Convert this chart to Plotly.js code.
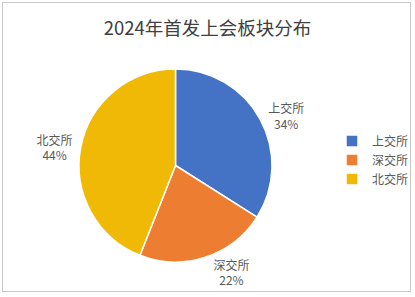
<!DOCTYPE html>
<html>
<head>
<meta charset="utf-8">
<script src="https://cdn.plot.ly/plotly-3.0.1.min.js"></script>
<style>
html,body{margin:0;padding:0;background:#fff;}
#wrap{position:absolute;left:0;top:0;width:415px;height:297px;}
#frame{position:absolute;left:2px;top:2px;width:407px;height:288px;border:1px solid #c8c8c8;pointer-events:none;}
#chart{position:absolute;left:0;top:0;width:415px;height:297px;}
</style>
</head>
<body>
<div id="wrap"><div id="chart"></div><div id="frame"></div></div>
<script>
const categories = ["上交所", "深交所", "北交所"];
const values = [34, 22, 44];
const colors = ["#4472C4", "#ED7D31", "#F0B905"];
const titleText = "2024年首发上会板块分布";

const font = "'Noto Sans CJK SC', 'Microsoft YaHei', sans-serif";

Plotly.newPlot("chart", [{
  type: "pie",
  labels: categories,
  values: values,
  sort: false,
  direction: "clockwise",
  rotation: 0,
  marker: {colors: colors, line: {color: "#ffffff", width: 1.5}},
  textinfo: "label+percent",
  texttemplate: "%{label}<br>%{percent:.0%}",
  textposition: "outside",
  automargin: false,
  outsidetextfont: {family: font, size: 12, color: "#595959"},
  hoverinfo: "none",
  domain: {x: [0.1904, 0.6554], y: [0.1178, 0.7677]}
}], {
  width: 415, height: 297,
  margin: {l: 0, r: 0, t: 0, b: 0},
  paper_bgcolor: "#ffffff",
  font: {family: font, color: "#595959"},
  title: {text: titleText, font: {family: font, size: 18.5, color: "#404040"}, x: 0.5, xanchor: "center", y: 0.905, yanchor: "middle"},
  showlegend: true,
  legend: {x: 0.8, y: 0.461, xanchor: "left", yanchor: "middle", font: {family: font, size: 12, color: "#595959"}, itemwidth: 30, tracegroupgap: 0}
}, {displayModeBar: false, staticPlot: true});
</script>
</body>
</html>
